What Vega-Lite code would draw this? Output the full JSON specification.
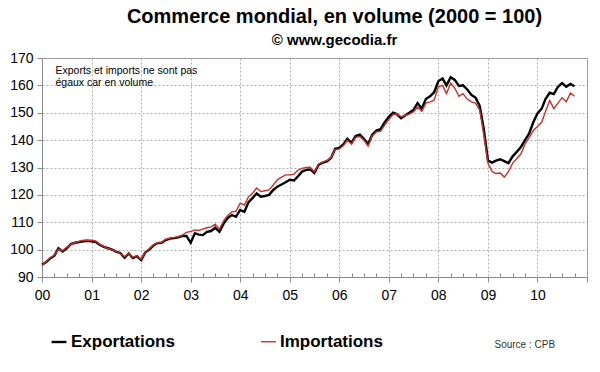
{
  "$schema": "https://vega.github.io/schema/vega-lite/v6.json",
  "width": 545,
  "height": 219,
  "autosize": {"type": "none"},
  "padding": {"left": 42, "top": 58, "right": 13, "bottom": 95},
  "background": "white",
  "config": {
    "font": "Liberation Sans",
    "view": {"stroke": "#8a8a8a", "strokeWidth": 1}
  },
  "title": {
    "text": "Commerce mondial, en volume (2000 = 100)",
    "subtitle": "© www.gecodia.fr",
    "anchor": "middle",
    "frame": "group",
    "dx": 20,
    "fontSize": 20,
    "fontWeight": "bold",
    "color": "black",
    "subtitleFontSize": 15,
    "subtitleFontWeight": "bold",
    "subtitleColor": "black",
    "subtitlePadding": 6,
    "offset": 3
  },
  "data": {
    "values": [
      {"d":"2000-01-01","Exportations":94.5,"Importations":94.3},
      {"d":"2000-02-01","Exportations":95.5,"Importations":95.7},
      {"d":"2000-03-01","Exportations":96.8,"Importations":97.0},
      {"d":"2000-04-01","Exportations":97.8,"Importations":98.0},
      {"d":"2000-05-01","Exportations":100.5,"Importations":100.2},
      {"d":"2000-06-01","Exportations":99.3,"Importations":99.6},
      {"d":"2000-07-01","Exportations":100.5,"Importations":100.8},
      {"d":"2000-08-01","Exportations":102.0,"Importations":101.8},
      {"d":"2000-09-01","Exportations":102.5,"Importations":102.6},
      {"d":"2000-10-01","Exportations":102.8,"Importations":103.0},
      {"d":"2000-11-01","Exportations":103.0,"Importations":103.4},
      {"d":"2000-12-01","Exportations":103.2,"Importations":103.5},
      {"d":"2001-01-01","Exportations":103.0,"Importations":103.4},
      {"d":"2001-02-01","Exportations":102.8,"Importations":103.1},
      {"d":"2001-03-01","Exportations":101.8,"Importations":102.0},
      {"d":"2001-04-01","Exportations":101.0,"Importations":101.1},
      {"d":"2001-05-01","Exportations":100.5,"Importations":100.4},
      {"d":"2001-06-01","Exportations":100.0,"Importations":100.0},
      {"d":"2001-07-01","Exportations":99.3,"Importations":99.4},
      {"d":"2001-08-01","Exportations":98.7,"Importations":98.5},
      {"d":"2001-09-01","Exportations":97.0,"Importations":97.4},
      {"d":"2001-10-01","Exportations":98.6,"Importations":98.6},
      {"d":"2001-11-01","Exportations":96.9,"Importations":97.2},
      {"d":"2001-12-01","Exportations":97.6,"Importations":97.8},
      {"d":"2002-01-01","Exportations":96.2,"Importations":96.5},
      {"d":"2002-02-01","Exportations":99.0,"Importations":99.0},
      {"d":"2002-03-01","Exportations":100.0,"Importations":100.3},
      {"d":"2002-04-01","Exportations":101.5,"Importations":101.7},
      {"d":"2002-05-01","Exportations":102.4,"Importations":102.5},
      {"d":"2002-06-01","Exportations":102.5,"Importations":102.7},
      {"d":"2002-07-01","Exportations":103.5,"Importations":103.8},
      {"d":"2002-08-01","Exportations":104.0,"Importations":104.2},
      {"d":"2002-09-01","Exportations":104.2,"Importations":104.4},
      {"d":"2002-10-01","Exportations":104.5,"Importations":104.8},
      {"d":"2002-11-01","Exportations":105.0,"Importations":105.3},
      {"d":"2002-12-01","Exportations":105.0,"Importations":106.3},
      {"d":"2003-01-01","Exportations":102.5,"Importations":106.6},
      {"d":"2003-02-01","Exportations":106.0,"Importations":107.2},
      {"d":"2003-03-01","Exportations":105.5,"Importations":107.0},
      {"d":"2003-04-01","Exportations":105.3,"Importations":107.5},
      {"d":"2003-05-01","Exportations":106.5,"Importations":108.0},
      {"d":"2003-06-01","Exportations":106.8,"Importations":108.3},
      {"d":"2003-07-01","Exportations":108.0,"Importations":109.3},
      {"d":"2003-08-01","Exportations":106.5,"Importations":107.5},
      {"d":"2003-09-01","Exportations":109.5,"Importations":110.5},
      {"d":"2003-10-01","Exportations":111.5,"Importations":112.5},
      {"d":"2003-11-01","Exportations":112.6,"Importations":113.8},
      {"d":"2003-12-01","Exportations":112.0,"Importations":114.0},
      {"d":"2004-01-01","Exportations":114.5,"Importations":117.0},
      {"d":"2004-02-01","Exportations":113.8,"Importations":116.3},
      {"d":"2004-03-01","Exportations":117.2,"Importations":119.2},
      {"d":"2004-04-01","Exportations":118.8,"Importations":120.6},
      {"d":"2004-05-01","Exportations":120.5,"Importations":122.5},
      {"d":"2004-06-01","Exportations":119.3,"Importations":121.2},
      {"d":"2004-07-01","Exportations":119.6,"Importations":121.5},
      {"d":"2004-08-01","Exportations":120.0,"Importations":121.8},
      {"d":"2004-09-01","Exportations":121.8,"Importations":123.6},
      {"d":"2004-10-01","Exportations":123.0,"Importations":125.5},
      {"d":"2004-11-01","Exportations":123.8,"Importations":126.5},
      {"d":"2004-12-01","Exportations":124.6,"Importations":127.3},
      {"d":"2005-01-01","Exportations":125.5,"Importations":127.3},
      {"d":"2005-02-01","Exportations":125.3,"Importations":127.6},
      {"d":"2005-03-01","Exportations":126.7,"Importations":129.0},
      {"d":"2005-04-01","Exportations":128.5,"Importations":129.7},
      {"d":"2005-05-01","Exportations":129.1,"Importations":130.0},
      {"d":"2005-06-01","Exportations":129.3,"Importations":130.1},
      {"d":"2005-07-01","Exportations":128.0,"Importations":128.4},
      {"d":"2005-08-01","Exportations":131.0,"Importations":131.3},
      {"d":"2005-09-01","Exportations":131.8,"Importations":132.0},
      {"d":"2005-10-01","Exportations":132.2,"Importations":132.6},
      {"d":"2005-11-01","Exportations":133.5,"Importations":133.6},
      {"d":"2005-12-01","Exportations":136.8,"Importations":136.5},
      {"d":"2006-01-01","Exportations":137.2,"Importations":136.8},
      {"d":"2006-02-01","Exportations":138.5,"Importations":138.0},
      {"d":"2006-03-01","Exportations":140.5,"Importations":140.0},
      {"d":"2006-04-01","Exportations":139.0,"Importations":138.5},
      {"d":"2006-05-01","Exportations":141.5,"Importations":141.0},
      {"d":"2006-06-01","Exportations":142.0,"Importations":141.3},
      {"d":"2006-07-01","Exportations":140.5,"Importations":140.0},
      {"d":"2006-08-01","Exportations":138.5,"Importations":137.8},
      {"d":"2006-09-01","Exportations":142.0,"Importations":141.5},
      {"d":"2006-10-01","Exportations":143.5,"Importations":143.0},
      {"d":"2006-11-01","Exportations":144.0,"Importations":143.2},
      {"d":"2006-12-01","Exportations":146.5,"Importations":145.5},
      {"d":"2007-01-01","Exportations":148.5,"Importations":147.5},
      {"d":"2007-02-01","Exportations":150.0,"Importations":149.3},
      {"d":"2007-03-01","Exportations":149.5,"Importations":149.6},
      {"d":"2007-04-01","Exportations":148.0,"Importations":148.6},
      {"d":"2007-05-01","Exportations":149.0,"Importations":149.0},
      {"d":"2007-06-01","Exportations":150.0,"Importations":149.5},
      {"d":"2007-07-01","Exportations":151.0,"Importations":150.3},
      {"d":"2007-08-01","Exportations":153.5,"Importations":152.0},
      {"d":"2007-09-01","Exportations":151.5,"Importations":150.5},
      {"d":"2007-10-01","Exportations":155.0,"Importations":153.5},
      {"d":"2007-11-01","Exportations":156.0,"Importations":154.0},
      {"d":"2007-12-01","Exportations":157.5,"Importations":154.6},
      {"d":"2008-01-01","Exportations":161.5,"Importations":159.5},
      {"d":"2008-02-01","Exportations":162.5,"Importations":160.0},
      {"d":"2008-03-01","Exportations":160.0,"Importations":157.0},
      {"d":"2008-04-01","Exportations":163.0,"Importations":160.8},
      {"d":"2008-05-01","Exportations":162.0,"Importations":159.0},
      {"d":"2008-06-01","Exportations":159.8,"Importations":156.0},
      {"d":"2008-07-01","Exportations":160.0,"Importations":157.0},
      {"d":"2008-08-01","Exportations":158.5,"Importations":155.0},
      {"d":"2008-09-01","Exportations":156.5,"Importations":154.0},
      {"d":"2008-10-01","Exportations":155.5,"Importations":153.5},
      {"d":"2008-11-01","Exportations":152.5,"Importations":151.0},
      {"d":"2008-12-01","Exportations":144.0,"Importations":142.0},
      {"d":"2009-01-01","Exportations":132.5,"Importations":131.5},
      {"d":"2009-02-01","Exportations":131.8,"Importations":128.5},
      {"d":"2009-03-01","Exportations":132.5,"Importations":127.8},
      {"d":"2009-04-01","Exportations":133.0,"Importations":128.0},
      {"d":"2009-05-01","Exportations":132.3,"Importations":126.5},
      {"d":"2009-06-01","Exportations":131.6,"Importations":128.5},
      {"d":"2009-07-01","Exportations":134.0,"Importations":131.5},
      {"d":"2009-08-01","Exportations":135.7,"Importations":133.2},
      {"d":"2009-09-01","Exportations":137.5,"Importations":135.0},
      {"d":"2009-10-01","Exportations":140.0,"Importations":138.5},
      {"d":"2009-11-01","Exportations":142.5,"Importations":141.0},
      {"d":"2009-12-01","Exportations":146.5,"Importations":143.5},
      {"d":"2010-01-01","Exportations":149.8,"Importations":145.0},
      {"d":"2010-02-01","Exportations":151.5,"Importations":146.5},
      {"d":"2010-03-01","Exportations":155.0,"Importations":150.5},
      {"d":"2010-04-01","Exportations":157.3,"Importations":154.5},
      {"d":"2010-05-01","Exportations":156.8,"Importations":151.5},
      {"d":"2010-06-01","Exportations":159.5,"Importations":153.5},
      {"d":"2010-07-01","Exportations":160.8,"Importations":155.5},
      {"d":"2010-08-01","Exportations":159.5,"Importations":154.0},
      {"d":"2010-09-01","Exportations":160.5,"Importations":157.2},
      {"d":"2010-10-01","Exportations":159.7,"Importations":156.0}
    ]
  },
  "transform": [
    {"fold": ["Exportations", "Importations"], "as": ["serie", "valeur"]}
  ],
  "mark": {"type": "line", "interpolate": "linear"},
  "encoding": {
    "x": {
      "field": "d",
      "type": "temporal",
      "scale": {"type": "utc", "domain": [{"year": 2000, "month": 1, "date": 1, "utc": true}, {"year": 2011, "month": 1, "date": 1, "utc": true}], "nice": false},
      "axis": {
        "title": "Source : CPB",
        "titleFontSize": 10,
        "titleFontWeight": "normal",
        "titleColor": "#333",
        "titleX": 452,
        "titleY": 67,
        "titleAlign": "left",
        "titleBaseline": "middle",
        "tickCount": {"interval": "month", "step": 3},
        "labelExpr": "utcmonth(datum.value) == 0 && utcyear(datum.value) < 2011 ? utcFormat(datum.value, '%y') : ''",
        "labelOverlap": false,
        "labelFlush": false,
        "labelFontSize": 14,
        "labelColor": "black",
        "labelPadding": 6,
        "domainColor": "#8a8a8a",
        "tickColor": "#8a8a8a",
        "tickSize": {"condition": {"test": "utcmonth(datum.value) == 0", "value": 5}, "value": -4},
        "grid": true,
        "gridDash": [2, 2],
        "gridColor": "#b0b0b0",
        "gridOpacity": {"condition": {"test": "utcmonth(datum.value) == 0", "value": 1}, "value": 0}
      }
    },
    "y": {
      "field": "valeur",
      "type": "quantitative",
      "scale": {"domain": [90, 170], "nice": false, "zero": false},
      "axis": {
        "values": [90, 100, 110, 120, 130, 140, 150, 160, 170],
        "title": ["Exports et imports ne sont pas", "égaux car en volume"],
        "titleAngle": 0,
        "titleAlign": "left",
        "titleBaseline": "top",
        "titleX": 13,
        "titleY": 7,
        "titleFontSize": 10.5,
        "titleFontWeight": "normal",
        "titleColor": "black",
        "titleLineHeight": 12.5,
        "labelFontSize": 14,
        "labelColor": "black",
        "labelPadding": 4,
        "tickSize": 5,
        "tickColor": "#8a8a8a",
        "domainColor": "#8a8a8a",
        "gridDash": [2, 2],
        "gridColor": "#b0b0b0"
      }
    },
    "color": {
      "field": "serie",
      "type": "nominal",
      "scale": {"domain": ["Exportations", "Importations"], "range": ["black", "#c8302c"]},
      "legend": {
        "title": null,
        "orient": "none",
        "direction": "horizontal",
        "legendX": 8,
        "legendY": 275,
        "symbolType": "stroke",
        "symbolSize": 220,
        "symbolStrokeWidth": 2.5,
        "labelFontSize": 17,
        "labelFontWeight": "bold",
        "labelColor": "black",
        "labelOffset": 3,
        "columnPadding": 83
      }
    },
    "strokeWidth": {
      "field": "serie",
      "type": "nominal",
      "scale": {"domain": ["Exportations", "Importations"], "range": [2.4, 1.4]},
      "legend": null
    }
  }
}
